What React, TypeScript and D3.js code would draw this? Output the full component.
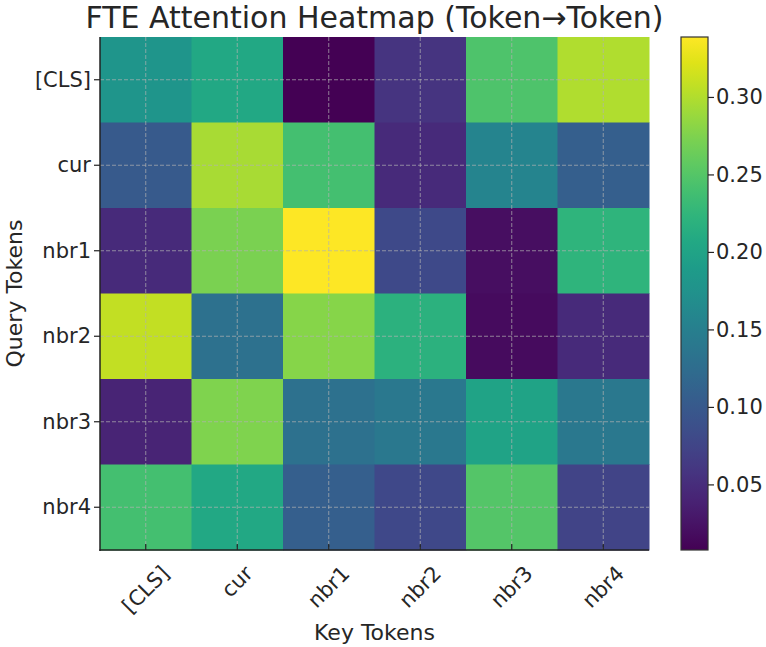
import React, { useRef, useEffect } from 'react';
import * as d3 from 'd3';

const keyTokens = ['[CLS]', 'cur', 'nbr1', 'nbr2', 'nbr3', 'nbr4'];
const queryTokens = ['[CLS]', 'cur', 'nbr1', 'nbr2', 'nbr3', 'nbr4'];

// attention weights, one row per query token
const rowCls = [0.180, 0.206, 0.008, 0.058, 0.246, 0.300];
const rowCur = [0.100, 0.296, 0.240, 0.048, 0.157, 0.107];
const rowNbr1 = [0.048, 0.273, 0.339, 0.081, 0.020, 0.223];
const rowNbr2 = [0.309, 0.130, 0.279, 0.220, 0.018, 0.048];
const rowNbr3 = [0.041, 0.275, 0.130, 0.140, 0.200, 0.140];
const rowNbr4 = [0.240, 0.206, 0.107, 0.080, 0.250, 0.074];
const weights = [rowCls, rowCur, rowNbr1, rowNbr2, rowNbr3, rowNbr4];

const colorbarTicks = [0.05, 0.1, 0.15, 0.2, 0.25, 0.3];

const WIDTH = 766;
const HEIGHT = 647;
const FONT = 'DejaVu Sans, sans-serif';
const TEXT = '#262626';

const App: React.FC = () => {
  const svgRef = useRef<SVGSVGElement | null>(null);

  useEffect(() => {
    if (!svgRef.current) return;
    const svg = d3.select(svgRef.current);
    svg.selectAll('*').remove();

    const plot = { left: 100, right: 649, top: 37, bottom: 550 };
    const bar = { left: 681, right: 708 };

    const flat = weights.flat();
    const vmin = d3.min(flat) as number;
    const vmax = d3.max(flat) as number;

    const x = d3.scaleBand<string>().domain(keyTokens).range([plot.left, plot.right]);
    const y = d3.scaleBand<string>().domain(queryTokens).range([plot.top, plot.bottom]);
    const color = d3.scaleSequential(d3.interpolateViridis).domain([vmin, vmax]);

    // cells
    const cells = svg.append('g');
    weights.forEach((row, i) => {
      row.forEach((v, j) => {
        cells.append('rect')
          .attr('x', x(keyTokens[j]) as number)
          .attr('y', y(queryTokens[i]) as number)
          .attr('width', x.bandwidth() + 0.5)
          .attr('height', y.bandwidth() + 0.5)
          .attr('fill', color(v));
      });
    });

    // dashed grid through the cell centres
    const grid = svg.append('g')
      .attr('stroke', '#b0b0b0')
      .attr('stroke-opacity', 0.7)
      .attr('stroke-width', 1)
      .attr('stroke-dasharray', '4,2');
    keyTokens.forEach(k => {
      const cx = (x(k) as number) + x.bandwidth() / 2;
      grid.append('line').attr('x1', cx).attr('x2', cx).attr('y1', plot.top).attr('y2', plot.bottom);
    });
    queryTokens.forEach(q => {
      const cy = (y(q) as number) + y.bandwidth() / 2;
      grid.append('line').attr('x1', plot.left).attr('x2', plot.right).attr('y1', cy).attr('y2', cy);
    });

    // spines
    svg.append('line')
      .attr('x1', plot.left).attr('x2', plot.left)
      .attr('y1', plot.top).attr('y2', plot.bottom + 1)
      .attr('stroke', '#222').attr('stroke-width', 1.5);
    svg.append('line')
      .attr('x1', plot.left - 0.5).attr('x2', plot.right)
      .attr('y1', plot.bottom).attr('y2', plot.bottom)
      .attr('stroke', '#222').attr('stroke-width', 1.5);

    // y ticks
    queryTokens.forEach(q => {
      const cy = (y(q) as number) + y.bandwidth() / 2;
      svg.append('line')
        .attr('x1', plot.left - 6).attr('x2', plot.left)
        .attr('y1', cy).attr('y2', cy)
        .attr('stroke', '#222').attr('stroke-width', 1.2);
      svg.append('text')
        .attr('x', plot.left - 9)
        .attr('y', cy)
        .attr('text-anchor', 'end')
        .attr('dominant-baseline', 'central')
        .attr('font-family', FONT)
        .attr('font-size', 21)
        .attr('fill', TEXT)
        .text(q);
    });

    // x ticks, labels rotated 45° and centred under the tick
    keyTokens.forEach(k => {
      const cx = (x(k) as number) + x.bandwidth() / 2;
      svg.append('line')
        .attr('x1', cx).attr('x2', cx)
        .attr('y1', plot.bottom).attr('y2', plot.bottom - 6)
        .attr('stroke', '#222').attr('stroke-width', 1.2);
      const label = svg.append('text')
        .attr('text-anchor', 'middle')
        .attr('dominant-baseline', 'central')
        .attr('font-family', FONT)
        .attr('font-size', 21)
        .attr('fill', TEXT)
        .text(k);
      const w = (label.node() as SVGTextElement).getComputedTextLength();
      const h = 22;
      const cy = plot.bottom + 12 + (w + h) * Math.SQRT1_2 / 2;
      label.attr('transform', `translate(${cx},${cy}) rotate(-45)`);
    });

    // axis titles
    svg.append('text')
      .attr('x', (plot.left + plot.right) / 2)
      .attr('y', 632)
      .attr('text-anchor', 'middle')
      .attr('dominant-baseline', 'central')
      .attr('font-family', FONT)
      .attr('font-size', 22)
      .attr('fill', TEXT)
      .text('Key Tokens');

    svg.append('text')
      .attr('transform', `translate(14,${(plot.top + plot.bottom) / 2}) rotate(-90)`)
      .attr('text-anchor', 'middle')
      .attr('dominant-baseline', 'central')
      .attr('font-family', FONT)
      .attr('font-size', 22)
      .attr('fill', TEXT)
      .text('Query Tokens');

    // title
    svg.append('text')
      .attr('x', (plot.left + plot.right) / 2)
      .attr('y', 28)
      .attr('text-anchor', 'middle')
      .attr('font-family', FONT)
      .attr('font-size', 30)
      .attr('fill', TEXT)
      .text('FTE Attention Heatmap (Token→Token)');

    // colorbar
    const gradient = svg.append('defs')
      .append('linearGradient')
      .attr('id', 'viridis-bar')
      .attr('x1', '0%').attr('y1', '100%')
      .attr('x2', '0%').attr('y2', '0%');
    d3.range(0, 1.0001, 0.05).forEach(t => {
      gradient.append('stop')
        .attr('offset', `${t * 100}%`)
        .attr('stop-color', d3.interpolateViridis(t));
    });

    const barScale = d3.scaleLinear().domain([vmin, vmax]).range([plot.bottom, plot.top]);
    svg.append('rect')
      .attr('x', bar.left)
      .attr('y', plot.top)
      .attr('width', bar.right - bar.left)
      .attr('height', plot.bottom - plot.top)
      .attr('fill', 'url(#viridis-bar)')
      .attr('stroke', '#333')
      .attr('stroke-width', 1.2);

    colorbarTicks.forEach(t => {
      const ty = barScale(t);
      svg.append('line')
        .attr('x1', bar.right).attr('x2', bar.right + 6)
        .attr('y1', ty).attr('y2', ty)
        .attr('stroke', '#222').attr('stroke-width', 1.2);
      svg.append('text')
        .attr('x', bar.right + 8)
        .attr('y', ty)
        .attr('dominant-baseline', 'central')
        .attr('font-family', FONT)
        .attr('font-size', 21)
        .attr('fill', TEXT)
        .text(d3.format('.2f')(t));
    });
  }, []);

  return (
    <svg
      ref={svgRef}
      width={WIDTH}
      height={HEIGHT}
      style={{ position: 'absolute', left: 0, top: 0, background: '#fff' }}
    />
  );
};

export default App;
